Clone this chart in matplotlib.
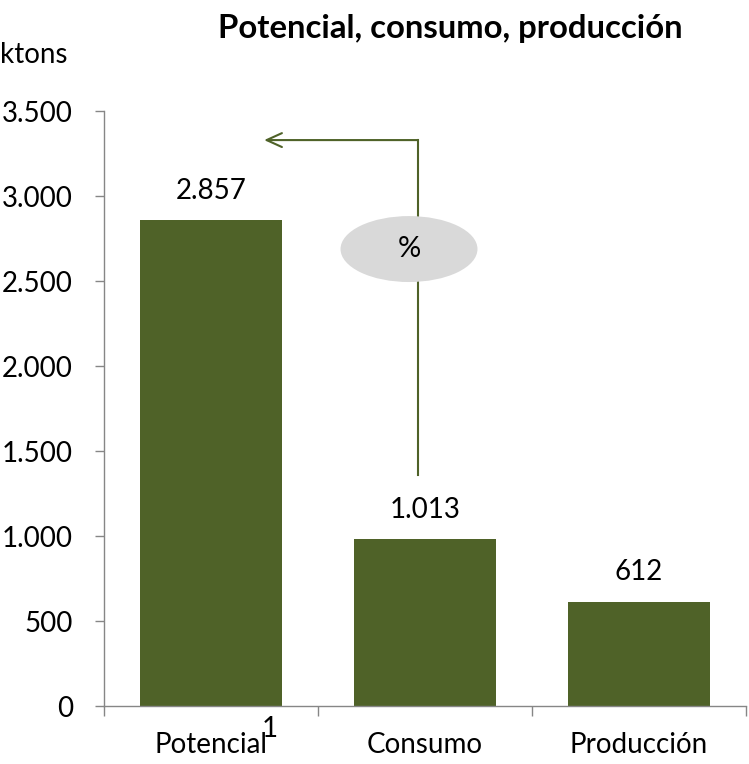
import matplotlib
matplotlib.use("Agg")
import matplotlib.pyplot as plt
import matplotlib.patches as patches
import numpy as np

# ==========================================
# DATA
# ==========================================

categories = ["Potencial", "Consumo", "Producción"]
values = [2857, 981, 612]
value_labels = ["2.857", "1.013", "612"]
y_ticks = [0, 500, 1000, 1500, 2000, 2500, 3000, 3500]
y_tick_labels = ["0", "500", "1.000", "1.500", "2.000", "2.500", "3.000", "3.500"]

# ==========================================
# STYLE
# ==========================================

plt.rcParams["font.family"] = ["Lato", "DejaVu Sans"]

BAR_COLOR = "#4F6228"
AXIS_COLOR = "#868686"
FS = 20

# ==========================================
# FIGURE
# ==========================================

fig = plt.figure(figsize=(7.49, 7.64), dpi=100)
ax = fig.add_axes([0.1389, 0.0759, 0.8572, 0.7788])

x = np.arange(len(categories))

ax.bar(x, values, width=0.66, color=BAR_COLOR, zorder=2)

# value labels
for xi, v, lab in zip(x, values, value_labels):
    ax.annotate(lab, (xi, v), xytext=(0, 12), textcoords="offset points",
                ha="center", va="bottom", fontsize=FS)

# ==========================================
# AXES
# ==========================================

ax.set_xlim(-0.5, len(categories) - 0.5)
ax.set_ylim(0, 3500)

ax.set_yticks(y_ticks)
ax.set_yticklabels(y_tick_labels, fontsize=FS)
ax.tick_params(axis="y", direction="out", length=6.5, width=1,
               color=AXIS_COLOR, pad=16)

ax.set_xticks(x)
ax.set_xticklabels(categories, fontsize=FS)
ax.set_xticks(np.arange(-0.5, len(categories)), minor=True)
ax.tick_params(axis="x", which="major", length=0, pad=19)
ax.tick_params(axis="x", which="minor", length=7, width=1, color=AXIS_COLOR)

for side in ["top", "right"]:
    ax.spines[side].set_visible(False)
for side in ["left", "bottom"]:
    ax.spines[side].set_color(AXIS_COLOR)
    ax.spines[side].set_linewidth(1)

# superscript note on first label
ax.text(0.275, -0.039, "1", transform=ax.get_xaxis_transform(),
        ha="center", va="center", fontsize=FS)

# ==========================================
# ARROW + ELLIPSE
# ==========================================

ax.plot([0.967, 0.967], [1359, 3329], color=BAR_COLOR, lw=1.5, zorder=3)
ax.annotate("", xy=(0.248, 3329), xytext=(0.967, 3329),
            arrowprops=dict(arrowstyle="->,head_length=1.1,head_width=0.5",
                            color=BAR_COLOR, lw=1.5, shrinkA=0, shrinkB=0),
            zorder=3)

ell = patches.Ellipse((0.925, 2688), 0.64, 388, facecolor="#D9D9D9",
                      edgecolor="none", zorder=4)
ax.add_patch(ell)
ax.text(0.925, 2688, "%", ha="center", va="center", fontsize=21, zorder=5)

# ==========================================
# TITLE
# ==========================================

fig.text(0.601, 0.963, "Potencial, consumo, producción", ha="center",
         va="center", fontsize=23.7, fontweight="bold")
fig.text(0.0, 0.928, "ktons", ha="left", va="center", fontsize=FS)

fig.savefig("out.png", dpi=100)
